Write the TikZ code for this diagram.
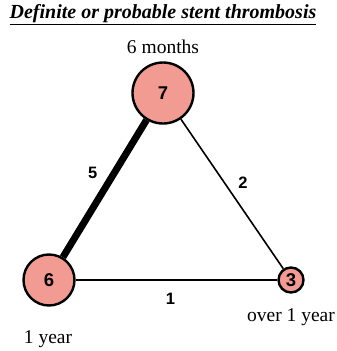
\documentclass[tikz,border=0pt]{standalone}
\usepackage{fontspec}
\setmainfont{Liberation Serif}
\setsansfont{Liberation Sans}
\usepackage{xcolor}
\usepackage{tikz}
\usetikzlibrary{positioning}
\definecolor{nodefill}{RGB}{241,155,146}
\tikzset{
  period/.style={draw, circle, line width=2.4pt, fill=nodefill, inner sep=0pt, font=\sffamily\bfseries\fontsize{18.5}{20}\selectfont},
  timelabel/.style={font=\fontsize{19.5}{22}\selectfont, inner sep=0pt},
  link/.style={line width=1.6pt},
  heavylink/.style={line width=7pt},
  count/.style={font=\sffamily\bfseries\fontsize{16.5}{18}\selectfont, inner sep=0pt}
}
\begin{document}
\begin{tikzpicture}[x=1pt,y=-1pt]
  \useasboundingbox (0,0) rectangle (337,351);
  \node[font=\bfseries\itshape\fontsize{20}{24}\selectfont, inner sep=0pt] (title) at (163,15) {\underline{Definite or probable stent thrombosis}};

  \node[period, minimum size=61pt] (sixmonths) at (163,93) {7};
  \node[period, minimum size=51pt] (oneyear) at (49,280) {6};
  \node[period, minimum size=25pt] (overyear) at (291,280) {3};

  \node[timelabel] (sixmonthsText) at (163,47) {6 months};
  \node[timelabel] (oneyearText) at (48,339) {1 year};
  \node[timelabel] (overyearText) at (291,317) {over 1 year};

  \draw[heavylink] (sixmonths) -- node[count, pos=0.5, xshift=-12pt, yshift=15.5pt] {5} (oneyear);
  \draw[link] (sixmonths) -- node[count, pos=0.5, xshift=11pt, yshift=11.5pt] {2} (overyear);
  \draw[link] (oneyear) -- node[count, below=12pt, xshift=-6pt] {1} (overyear);
\end{tikzpicture}
\end{document}
